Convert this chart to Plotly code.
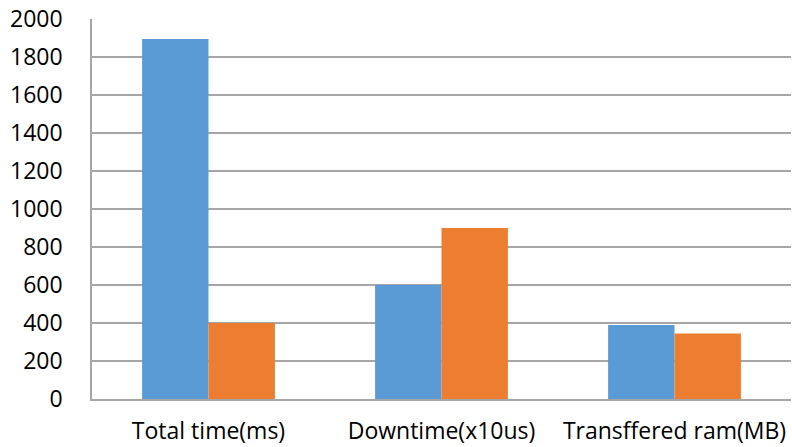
import plotly.graph_objects as go

# Grouped bar data
categories = ["Total time(ms)", "Downtime(x10us)", "Transffered ram(MB)"]
series_a = [1895, 600, 390]
series_b = [400, 900, 345]
y_ticks = [0, 200, 400, 600, 800, 1000, 1200, 1400, 1600, 1800, 2000]

BLUE = "#5b9bd5"
ORANGE = "#ed7d31"
GRID = "#a6a6a6"
FONT = "Open Sans"
FONT_SIZE = 23

fig = go.Figure()
fig.add_trace(go.Bar(x=categories, y=series_a, marker=dict(color=BLUE, line=dict(width=0))))
fig.add_trace(go.Bar(x=categories, y=series_b, marker=dict(color=ORANGE, line=dict(width=0))))

fig.update_layout(
    width=792,
    height=447,
    margin=dict(l=92, r=1, t=19, b=48),
    paper_bgcolor="white",
    plot_bgcolor="white",
    barmode="group",
    bargap=0.43,
    bargroupgap=0,
    showlegend=False,
    font=dict(family=FONT, size=FONT_SIZE, color="#000000"),
)
fig.update_xaxes(
    showgrid=False,
    showline=True,
    linecolor=GRID,
    linewidth=1.5,
    ticks="",
    ticklabelstandoff=11,
    tickfont=dict(family=FONT, size=FONT_SIZE, color="#000000"),
)
fig.update_yaxes(
    range=[0, 2000],
    tickvals=y_ticks,
    showgrid=True,
    gridcolor=GRID,
    gridwidth=1.5,
    showline=True,
    linecolor=GRID,
    linewidth=1.5,
    zeroline=False,
    ticks="",
    ticklabelstandoff=23,
    tickfont=dict(family=FONT, size=FONT_SIZE, color="#000000"),
)

fig.write_html("out.html")
